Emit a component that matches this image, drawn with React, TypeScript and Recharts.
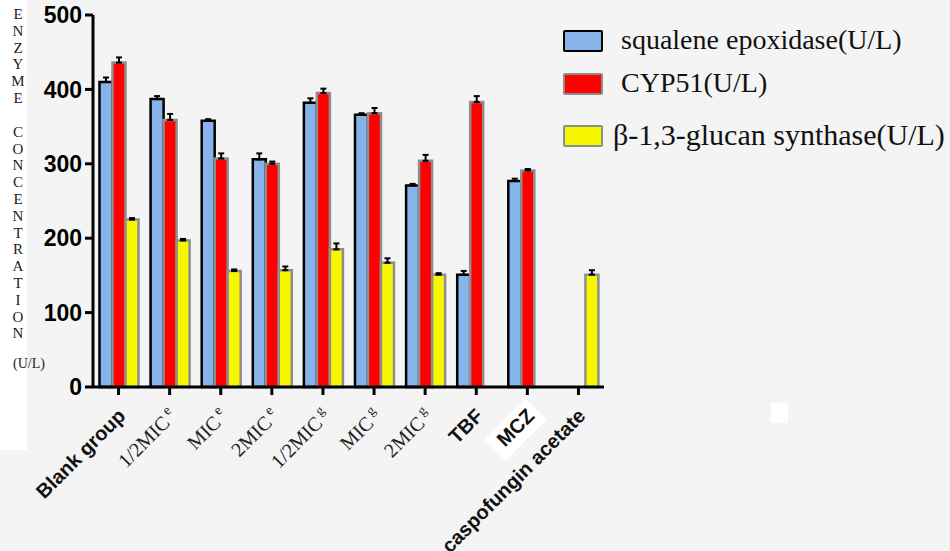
import React from "react";
import { BarChart, Bar, XAxis, YAxis, ErrorBar, Label } from "recharts";

const categories = [
  "Blank group",
  "1/2MIC e",
  "MIC e",
  "2MIC e",
  "1/2MIC g",
  "MIC g",
  "2MIC g",
  "TBF",
  "MCZ",
  "caspofungin acetate",
];
const squalene = [410, 387, 358, 306, 382, 366, 271, 151, 277, null];
const squaleneErr = [6, 4, 2, 8, 6, 2, 2, 5, 3, null];
const cyp51 = [436, 359, 307, 300, 395, 368, 304, 383, 291, null];
const cyp51Err = [7, 8, 7, 3, 6, 7, 8, 8, 2, null];
const glucan = [225, 197, 156, 157, 185, 167, 151, null, null, 151];
const glucanErr = [2, 2, 2, 5, 8, 6, 2, null, null, 6];
const yTicks = [0, 100, 200, 300, 400, 500];

const seriesNames = [
  "squalene epoxidase(U/L)",
  "CYP51(U/L)",
  "β-1,3-glucan synthase(U/L)",
];
const yLabelWords = ["ENZYME", "CONCENTRATION"];

const data = categories.map((name, i) => ({
  name,
  squalene: squalene[i],
  squaleneErr: squaleneErr[i] == null ? null : [0, squaleneErr[i]],
  cyp51: cyp51[i],
  cyp51Err: cyp51Err[i] == null ? null : [0, cyp51Err[i]],
  glucan: glucan[i],
  glucanErr: glucanErr[i] == null ? null : [0, glucanErr[i]],
}));

const BLUE = "#86b4ea";
const RED = "#ff0000";
const YELLOW = "#f7f700";
const GREY = "#8e8e8e";
const SANS = "'Liberation Sans', Arial, sans-serif";
const SERIF = "'Liberation Serif', 'Times New Roman', serif";

const XTick = (props: any) => {
  const { x, y, payload } = props;
  const label: string = payload.value;
  const isMic = label.includes("MIC");
  const parts = isMic ? label.split(" ") : [label];
  return (
    <g transform={`translate(${x - 2},${y + 10}) rotate(-45)`}>
      {label === "MCZ" && (
        <rect x={-52} y={-6} width={58} height={30} fill="#ffffff" />
      )}
      {isMic ? (
        <text
          textAnchor="end"
          dy="0.72em"
          fontFamily={SERIF}
          fontSize={20}
          fill="#222"
        >
          {parts[0]}
          <tspan fontSize={14} dy="-0.6em">
            {" " + parts[1]}
          </tspan>
        </text>
      ) : (
        <text
          textAnchor="end"
          dy="0.72em"
          fontFamily={SANS}
          fontWeight="bold"
          fontSize={20}
          fill="#111"
        >
          {label}
        </text>
      )}
    </g>
  );
};

const YAxisTitle = () => {
  const rows: { t: string; y: number }[] = [];
  let y = 19;
  yLabelWords.forEach((w, wi) => {
    if (wi > 0) y += 17;
    w.split("").forEach((c) => {
      rows.push({ t: c, y });
      y += 16.8;
    });
  });
  return (
    <g>
      <rect x={0} y={0} width={27} height={450} fill="#ffffff" />
      {rows.map((r, i) => (
        <text
          key={i}
          x={18}
          y={r.y}
          textAnchor="middle"
          fontFamily={SERIF}
          fontSize={15}
          fill="#222"
        >
          {r.t}
        </text>
      ))}
      <text
        x={29}
        y={368}
        textAnchor="middle"
        fontFamily={SERIF}
        fontSize={14}
        fill="#222"
      >
        (U/L)
      </text>
    </g>
  );
};

const legendSwatches = [
  { fill: BLUE, stroke: "#000", top: 30, size: 28 },
  { fill: RED, stroke: GREY, top: 73, size: 28 },
  { fill: YELLOW, stroke: GREY, top: 125, size: 30 },
];

const ChartLegend = () => (
  <div style={{ position: "absolute", left: 560, top: 0, width: 390, height: 160 }}>
    {seriesNames.map((n, i) => {
      const s = legendSwatches[i];
      return (
        <div key={n}>
          <div
            style={{
              position: "absolute",
              left: 3,
              top: s.top,
              width: 36,
              height: 18,
              background: s.fill,
              border: `2.5px solid ${s.stroke}`,
              borderRadius: 2,
            }}
          />
          <div
            style={{
              position: "absolute",
              left: i === 2 ? 53 : 61,
              top: s.top - 10,
              fontFamily: SERIF,
              fontSize: s.size,
              color: "#111",
              whiteSpace: "nowrap",
              lineHeight: "40px",
            }}
          >
            {n}
          </div>
        </div>
      );
    })}
  </div>
);

export default function App() {
  return (
    <div
      style={{
        position: "absolute",
        left: 0,
        top: 0,
        width: 950,
        height: 551,
        background: "#f4f4f4",
        overflow: "hidden",
      }}
    >
      <div
        style={{
          position: "absolute",
          left: 771,
          top: 403,
          width: 17,
          height: 20,
          background: "#fff",
        }}
      />
      <BarChart
        width={950}
        height={551}
        data={data}
        margin={{ top: 15, right: 346, bottom: 0, left: 1 }}
        barCategoryGap={6.5}
        barGap={0}
      >
        <XAxis
          dataKey="name"
          interval={0}
          tick={<XTick />}
          tickSize={8}
          tickLine={{ stroke: "#000", strokeWidth: 3 }}
          axisLine={{ stroke: "#000", strokeWidth: 3 }}
          height={164}
        />
        <YAxis
          width={92}
          domain={[0, 500]}
          ticks={yTicks}
          interval={0}
          tickSize={8}
          tickMargin={3}
          tickLine={{ stroke: "#000", strokeWidth: 3 }}
          axisLine={{ stroke: "#000", strokeWidth: 3 }}
          tick={{
            fill: "#000",
            fontFamily: SANS,
            fontWeight: "bold",
            fontSize: 23,
          }}
        >
          <Label content={<YAxisTitle />} />
        </YAxis>
        <Bar
          dataKey="squalene"
          name={seriesNames[0]}
          fill={BLUE}
          stroke="#000"
          strokeWidth={2.5}
          isAnimationActive={false}
        >
          <ErrorBar
            dataKey="squaleneErr"
            direction="y"
            width={3}
            stroke="#000"
            strokeWidth={2}
          />
        </Bar>
        <Bar
          dataKey="cyp51"
          name={seriesNames[1]}
          fill={RED}
          stroke={GREY}
          strokeWidth={2.5}
          isAnimationActive={false}
        >
          <ErrorBar
            dataKey="cyp51Err"
            direction="y"
            width={3}
            stroke="#000"
            strokeWidth={2}
          />
        </Bar>
        <Bar
          dataKey="glucan"
          name={seriesNames[2]}
          fill={YELLOW}
          stroke={GREY}
          strokeWidth={2.5}
          isAnimationActive={false}
        >
          <ErrorBar
            dataKey="glucanErr"
            direction="y"
            width={3}
            stroke="#000"
            strokeWidth={2}
          />
        </Bar>
      </BarChart>
      <ChartLegend />
    </div>
  );
}
